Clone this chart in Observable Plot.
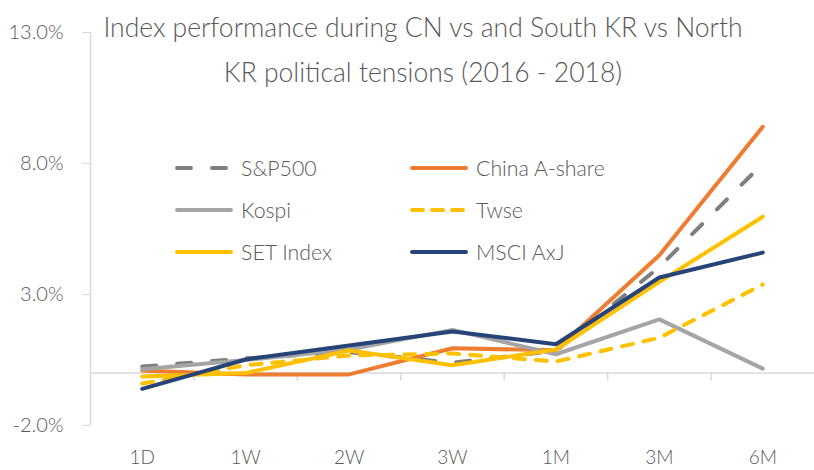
<!DOCTYPE html>
<html>
<head>
<meta charset="utf-8">
<script src="https://cdn.jsdelivr.net/npm/d3@7"></script>
<script src="https://cdn.jsdelivr.net/npm/@observablehq/plot@0.6"></script>
<style>
  html, body { margin: 0; padding: 0; background: #fff; }
  #wrap { position: relative; width: 814px; height: 470px; font-family: Lato, "Open Sans", sans-serif; color: #595959; }
  #title { position: absolute; left: 73px; width: 700px; top: 5px; text-align: center; font-size: 26.5px; line-height: 45px; font-weight: 300; }
  #legend { position: absolute; left: 175px; top: 147px; display: grid; grid-template-columns: 235px 240px; row-gap: 0; }
  .item { display: flex; align-items: center; height: 42px; font-size: 21.3px; font-weight: 300; }
  .item svg { margin-right: 8px; }
  svg text { font-weight: 300; }
</style>
</head>
<body>
<div id="wrap">
  <div id="chart"></div>
  <div id="title">Index performance during CN vs and South KR vs North<br>KR political tensions (2016 - 2018)</div>
  <div id="legend"></div>
</div>
<script>
const categories = ["1D", "1W", "2W", "3W", "1M", "3M", "6M"];
const seriesNames = ["S&P500", "China A-share", "Kospi", "Twse", "SET Index", "MSCI AxJ"];
const sp500    = [0.25, 0.56, 0.80, 0.40, 0.85, 4.05, 8.00];
const chinaA   = [0.10, -0.05, -0.05, 0.95, 0.87, 4.50, 9.40];
const kospi    = [0.15, 0.50, 0.90, 1.65, 0.72, 2.05, 0.17];
const twse     = [-0.40, 0.30, 0.67, 0.75, 0.44, 1.35, 3.38];
const setIndex = [-0.13, 0.00, 0.86, 0.30, 0.90, 3.48, 5.97];
const msciAxJ  = [-0.60, 0.52, 1.05, 1.59, 1.10, 3.65, 4.60];
const yTicks = [-2, 3, 8, 13];

const seriesValues = [sp500, chinaA, kospi, twse, setIndex, msciAxJ];
const styles = {
  "S&P500":        {stroke: "#7f7f7f", dash: "14,21"},
  "China A-share": {stroke: "#ed7d31", dash: null},
  "Kospi":         {stroke: "#a5a5a5", dash: null},
  "Twse":          {stroke: "#ffc000", dash: "11,11"},
  "SET Index":     {stroke: "#ffc000", dash: null},
  "MSCI AxJ":      {stroke: "#264478", dash: null}
};

const lineMarks = seriesNames.map((name, s) =>
  Plot.line(seriesValues[s].map((v, i) => ({i, v})), {
    x: "i", y: "v",
    stroke: styles[name].stroke,
    strokeWidth: 4,
    strokeDasharray: styles[name].dash,
    strokeLinecap: "round",
    strokeLinejoin: "round"
  })
);

const chart = Plot.plot({
  width: 814,
  height: 470,
  marginLeft: 90,
  marginRight: 0,
  marginTop: 32,
  marginBottom: 45,
  style: {fontFamily: "Lato, 'Open Sans', sans-serif", background: "#fff"},
  x: {type: "linear", domain: [-0.5, categories.length - 0.5]},
  y: {domain: [-2, 13]},
  marks: [
    Plot.ruleX([-0.5], {y1: -2, y2: 13, stroke: "#d9d9d9", strokeWidth: 1.5}),
    Plot.ruleY([0], {stroke: "#d9d9d9", strokeWidth: 1.5}),
    Plot.ruleX(d3.range(0.5, categories.length - 0.5, 1), {y1: 0, y2: -0.3, stroke: "#d9d9d9", strokeWidth: 1.5}),
    Plot.axisY(yTicks, {tickSize: 8, tickPadding: 19, tickFormat: d => d.toFixed(1) + "%", stroke: "#d9d9d9", fill: "#595959", fontSize: 20, label: null}),
    Plot.axisX(d3.range(categories.length), {tickSize: 0, tickPadding: 25, tickFormat: i => categories[i], fill: "#595959", fontSize: 19, label: null}),
    ...lineMarks
  ]
});
document.getElementById("chart").appendChild(chart);

// legend
const legend = document.getElementById("legend");
const legendOrder = ["S&P500", "China A-share", "Kospi", "Twse", "SET Index", "MSCI AxJ"];
for (const name of legendOrder) {
  const st = styles[name];
  const item = document.createElement("div");
  item.className = "item";
  const ns = "http://www.w3.org/2000/svg";
  const svg = document.createElementNS(ns, "svg");
  svg.setAttribute("width", 58); svg.setAttribute("height", 10);
  const ln = document.createElementNS(ns, "line");
  ln.setAttribute("x1", 2); ln.setAttribute("x2", 56); ln.setAttribute("y1", 5); ln.setAttribute("y2", 5);
  ln.setAttribute("stroke", st.stroke); ln.setAttribute("stroke-width", 4); ln.setAttribute("stroke-linecap", "round");
  if (st.dash) ln.setAttribute("stroke-dasharray", name === "S&P500" ? "14,21" : "11,9");
  svg.appendChild(ln);
  item.appendChild(svg);
  const t = document.createElement("span");
  t.textContent = name;
  item.appendChild(t);
  legend.appendChild(item);
}
</script>
</body>
</html>
